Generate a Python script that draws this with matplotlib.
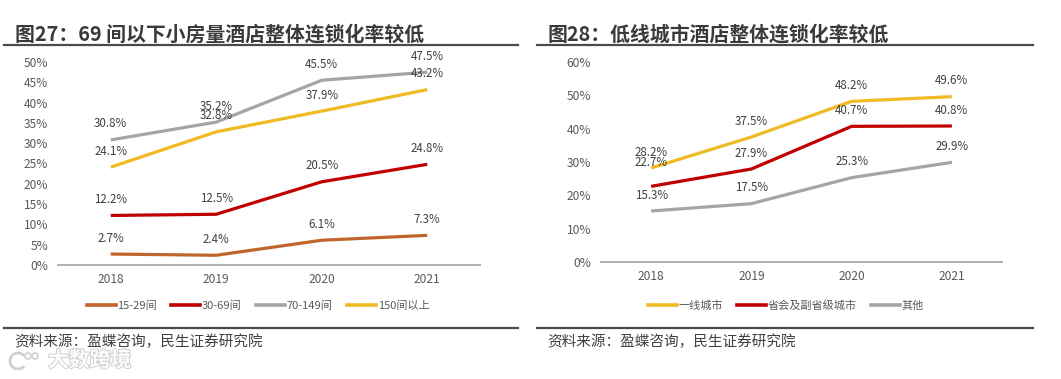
import matplotlib
matplotlib.use("Agg")
import matplotlib.pyplot as plt
import matplotlib.patheffects as pe
from matplotlib.lines import Line2D
from matplotlib.patches import Arc, Circle

plt.rcParams['font.family'] = ['Noto Sans CJK SC', 'DejaVu Sans']

# ---------------- data ----------------
years = ['2018', '2019', '2020', '2021']

left_title = '图27：69 间以下小房量酒店整体连锁化率较低'
left_names = ['15-29间', '30-69间', '70-149间', '150间以上']
rooms_15_29 = [2.7, 2.4, 6.1, 7.3]
rooms_30_69 = [12.2, 12.5, 20.5, 24.8]
rooms_70_149 = [30.8, 35.2, 45.5, 47.5]
rooms_150_plus = [24.1, 32.8, 37.9, 43.2]
left_ticks = [0, 5, 10, 15, 20, 25, 30, 35, 40, 45, 50]

right_title = '图28：低线城市酒店整体连锁化率较低'
right_names = ['一线城市', '省会及副省级城市', '其他']
tier1 = [28.2, 37.5, 48.2, 49.6]
provincial = [22.7, 27.9, 40.7, 40.8]
others = [15.3, 17.5, 25.3, 29.9]
right_ticks = [0, 10, 20, 30, 40, 50, 60]

source_text = '资料来源：盈蝶咨询，民生证券研究院'
watermark = '大数跨境'

# ---------------- style ----------------
C_ORANGE = '#C0652B'
C_RED = '#C00000'
C_GRAY = '#A5A5A5'
C_YELLOW = '#F0BA22'
TXT = '#404040'
TICK = '#595959'

W, H = 1061, 379
fig = plt.figure(figsize=(W / 100, H / 100), dpi=100)


def fx(px):
    return px / W


def fy(py):
    return 1 - py / H


def draw_panel(ax, series, colors, ticks, ymax, extra_offsets):
    x = list(range(len(years)))
    for i, (vals, col) in enumerate(zip(series, colors)):
        ax.plot(x, vals, color=col, lw=2.3, solid_capstyle='butt', zorder=3)
        for j, v in enumerate(vals):
            off = extra_offsets.get((i, j), 11.5)
            ax.annotate(f'{v:.1f}%', (x[j], v), xytext=(0, off),
                        textcoords='offset points', ha='center', va='center',
                        fontsize=8.3, color=TXT, zorder=4)
    ax.set_xlim(-0.5, len(years) - 0.5)
    ax.set_ylim(0, ymax)
    ax.set_xticks(x)
    ax.set_xticklabels(years)
    ax.set_yticks(ticks)
    ax.set_yticklabels([f'{t}%' for t in ticks])
    ax.tick_params(axis='both', length=0, labelsize=8.6, labelcolor=TICK)
    ax.tick_params(axis='y', pad=7)
    ax.tick_params(axis='x', pad=6)
    for s in ['top', 'right', 'left']:
        ax.spines[s].set_visible(False)
    ax.spines['bottom'].set_color('#B0B0B0')
    ax.spines['bottom'].set_linewidth(1.4)
    ax.patch.set_alpha(0)


# left panel
axL = fig.add_axes([fx(58), fy(265), fx(480 - 58), (265 - 62) / H])
left_series = [rooms_15_29, rooms_30_69, rooms_70_149, rooms_150_plus]
left_colors = [C_ORANGE, C_RED, C_GRAY, C_YELLOW]
draw_panel(axL, left_series, left_colors, left_ticks, 50, {})

# right panel
axR = fig.add_axes([fx(601), fy(262), fx(1002 - 601), (262 - 62) / H])
right_series = [tier1, provincial, others]
right_colors = [C_YELLOW, C_RED, C_GRAY]
draw_panel(axR, right_series, right_colors, right_ticks, 60, {(1, 0): 17.3})


# legends
def add_legend(names, colors, cx, cy):
    handles = [Line2D([], [], color=c, lw=2.6) for c in colors]
    fig.legend(handles, names, loc='center', bbox_to_anchor=(fx(cx), fy(cy)),
               ncol=len(names), frameon=False, fontsize=8,
               handlelength=2.6, handletextpad=0.15, columnspacing=1.3,
               labelcolor=TICK, borderaxespad=0, borderpad=0)


add_legend(left_names, left_colors, 258, 306)
add_legend(right_names, right_colors, 786, 305)

# titles, rules and sources
for x0, x1, title, tx in [(4, 518, left_title, 15), (537, 1033, right_title, 548)]:
    fig.add_artist(Line2D([fx(x0), fx(x1)], [fy(45), fy(45)], color='#4A4A4A', lw=1.6))
    fig.add_artist(Line2D([fx(x0), fx(x1)], [fy(328), fy(328)], color='#4A4A4A', lw=1.6))
    fig.text(fx(tx), fy(34), title, fontsize=14.3, fontweight='bold', color='#3A3A3A',
             ha='left', va='center')
    fig.text(fx(tx - 1), fy(342), source_text, fontsize=10.5, color=TXT,
             ha='left', va='center')

# watermark
fig.text(fx(48), fy(360), watermark, fontsize=15, fontweight='bold', color='white',
         ha='left', va='center', alpha=0.95,
         path_effects=[pe.withStroke(linewidth=1.4, foreground='#CFCFCF')])
wm = fig.add_axes([fx(8), fy(370), fx(40), 20 / H])
wm.set_xlim(0, 40)
wm.set_ylim(0, 20)
wm.axis('off')
wm.add_patch(Arc((10, 9), 16, 16, theta1=40, theta2=320, color='#CFCFCF', lw=2))
wm.add_patch(Circle((20, 14), 3, fill=False, color='#CFCFCF', lw=1.2))
wm.add_patch(Circle((27, 14), 3, fill=False, color='#CFCFCF', lw=1.2))

fig.savefig('out.png', dpi=100)
